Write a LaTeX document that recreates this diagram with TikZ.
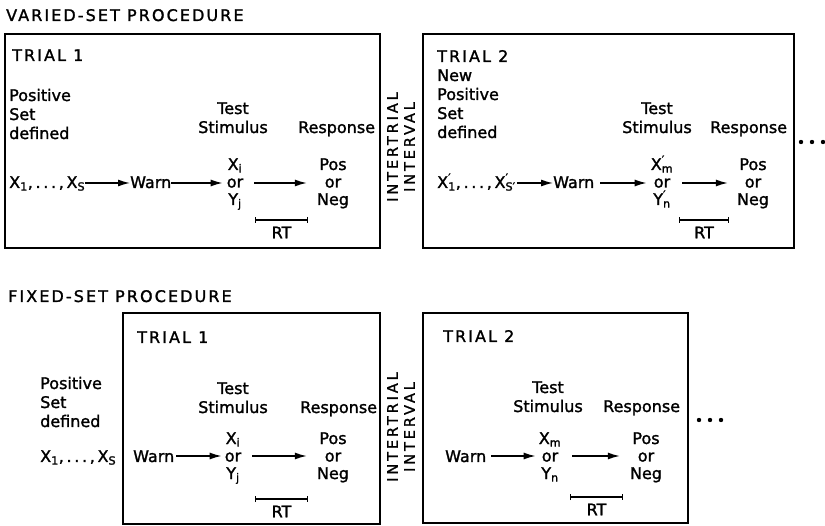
\documentclass[tikz,border=0pt]{standalone}
\usepackage{fontspec}
\setmainfont{DejaVu Sans}[RawFeature={embolden=1.5}]
\newfontfamily\capsfam[LetterSpace=13,RawFeature={embolden=1.5}]{DejaVu Sans}
\newfontfamily\itifam[LetterSpace=20,RawFeature={embolden=1.5}]{DejaVu Sans}
\usetikzlibrary{arrows.meta}
\newcommand\labfont{\fontsize{16}{19}\selectfont}
\newcommand\capfont{\capsfam\fontsize{16}{19}\selectfont}
\newcommand\stackfont{\fontsize{16}{17.5}\selectfont}
\newcommand\primed[2]{#1\rlap{\textsuperscript{′}}\textsubscript{#2}}
\newcommand\setdots{,\,.\,.\,.\,,\,}
\begin{document}
\begin{tikzpicture}[x=1pt,y=-1pt,
    lbl/.style={inner sep=0pt,font=\labfont,align=left},
    caps/.style={inner sep=0pt,font=\capfont},
    stack/.style={inner sep=1pt,font=\stackfont,align=center,anchor=base},
    arr/.style={-{Latex[length=12pt,width=7pt]},line width=1.4pt},
    frame/.style={line width=1.6pt},
    rtbar/.style={{Bar[width=6pt]}-{Bar[width=6pt]},line width=1.3pt},
    iti/.style={inner sep=0pt,font=\itifam\fontsize{14.5}{17}\selectfont,align=center,rotate=90}]
                  \useasboundingbox (0,0) rectangle (825,526);
                  % varied set
                  \node[caps,anchor=base west] (vtitle) at (6,21) {VARIED-SET PROCEDURE};
                  \draw[frame] (5,34) rectangle (380,248);
                  \draw[frame] (423,34) rectangle (794,248);
                  \coordinate (vrow) at (0,183);
                  \node[caps,anchor=base west] (vtrialA) at (12,61) {TRIAL 1};
                  \node[lbl,anchor=base west] (vposA) at (9,139) {Positive\\Set\\defined};
                  \node[lbl,anchor=base west] (vsetA) at (9,188) {X\textsubscript{1}\setdots X\textsubscript{S}};
                  \node[lbl,anchor=base west] (vwarnA) at (130,188) {Warn};
                  \node[stack] (vstimA) at (235,205) {X\textsubscript{i}\\or\\Y\textsubscript{j}};
                  \node[stack] (vrespA) at (333,205) {Pos\\or\\Neg};
                  \node[lbl,align=center,anchor=base] (vtestA) at (233,133) {Test\\Stimulus};
                  \node[lbl,anchor=base west] (vresptA) at (298,133) {Response};
                  \draw[arr] (vsetA.east |- vrow) -- (vwarnA.west |- vrow);
                  \draw[arr,shorten >=3pt] (vwarnA.east |- vrow) -- (vstimA.west |- vrow);
                  \draw[arr,shorten <=10pt,shorten >=9pt] (vstimA.east |- vrow) -- (vrespA.west |- vrow);
                  \draw[rtbar] (255,220) -- node[lbl,below=6pt] (vrtA) {RT} (308,220);
                  \node[iti] (vitiA) at (401,147) {INTERTRIAL\\INTERVAL};
                  \node[caps,anchor=base west] (vtrialB) at (437,62) {TRIAL 2};
                  \node[lbl,anchor=base west] (vposB) at (437,138) {New\\Positive\\Set\\defined};
                  \node[lbl,anchor=base west] (vsetB) at (437,188) {\primed{X}{1}\setdots\primed{X}{S′}};
                  \node[lbl,anchor=base west] (vwarnB) at (553,188) {Warn};
                  \node[stack] (vstimB) at (662,205) {\primed{X}{m}\\or\\\primed{Y}{n}};
                  \node[stack] (vrespB) at (753,205) {Pos\\or\\Neg};
                  \node[lbl,align=center,anchor=base] (vtestB) at (657,133) {Test\\Stimulus};
                  \node[lbl,anchor=base west] (vresptB) at (710,133) {Response};
                  \draw[arr,shorten <=1pt] (vsetB.east |- vrow) -- (vwarnB.west |- vrow);
                  \draw[arr,shorten <=6pt,shorten >=3pt] (vwarnB.east |- vrow) -- (vstimB.west |- vrow);
                  \draw[arr,shorten <=8pt,shorten >=8pt] (vstimB.east |- vrow) -- (vrespB.west |- vrow);
                  \draw[rtbar] (679,220) -- node[lbl,below=6pt] (vrtB) {RT} (729,220);
                  \fill (801,142) circle (2.2) (812,142) circle (2.2) (823,142) circle (2.2);
                  % fixed set
                  \node[caps,anchor=base west] (ftitle) at (8,302) {FIXED-SET PROCEDURE};
                  \draw[frame] (123,313) rectangle (380,524);
                  \draw[frame] (423,313) rectangle (688,523);
                  \coordinate (frow) at (0,456);
                  \node[lbl,anchor=base west] (fpos) at (40,427) {Positive\\Set\\defined};
                  \node[lbl,anchor=base west] (fset) at (40,462) {X\textsubscript{1}\setdots X\textsubscript{S}};
                  \node[caps,anchor=base west] (ftrialA) at (137,343) {TRIAL 1};
                  \node[lbl,anchor=base west] (fwarnA) at (133,462) {Warn};
                  \node[stack] (fstimA) at (233,479) {X\textsubscript{i}\\or\\Y\textsubscript{j}};
                  \node[stack] (frespA) at (333,479) {Pos\\or\\Neg};
                  \node[lbl,align=center,anchor=base] (ftestA) at (233,413) {Test\\Stimulus};
                  \node[lbl,anchor=base west] (fresptA) at (300,413) {Response};
                  \draw[arr,shorten <=2pt,shorten >=2pt] (fwarnA.east |- frow) -- (fstimA.west |- frow);
                  \draw[arr,shorten <=10pt,shorten >=9pt] (fstimA.east |- frow) -- (frespA.west |- frow);
                  \draw[rtbar] (255,499) -- node[lbl,below=6pt] (frtA) {RT} (308,499);
                  \node[iti] (fitiA) at (401,427) {INTERTRIAL\\INTERVAL};
                  \node[caps,anchor=base west] (ftrialB) at (443,342) {TRIAL 2};
                  \node[lbl,anchor=base west] (fwarnB) at (445,462) {Warn};
                  \node[stack] (fstimB) at (550,479) {X\textsubscript{m}\\or\\Y\textsubscript{n}};
                  \node[stack] (frespB) at (646,479) {Pos\\or\\Neg};
                  \node[lbl,align=center,anchor=base] (ftestB) at (548,412) {Test\\Stimulus};
                  \node[lbl,anchor=base west] (fresptB) at (603,412) {Response};
                  \draw[arr,shorten <=5pt,shorten >=2pt] (fwarnB.east |- frow) -- (fstimB.west |- frow);
                  \draw[arr,shorten <=10pt,shorten >=9pt] (fstimB.east |- frow) -- (frespB.west |- frow);
                  \draw[rtbar] (570,497) -- node[lbl,below=6pt] (frtB) {RT} (623,497);
                  \fill (699,420) circle (2.2) (710,420) circle (2.2) (721,420) circle (2.2);
              \end{tikzpicture}
\end{document}
